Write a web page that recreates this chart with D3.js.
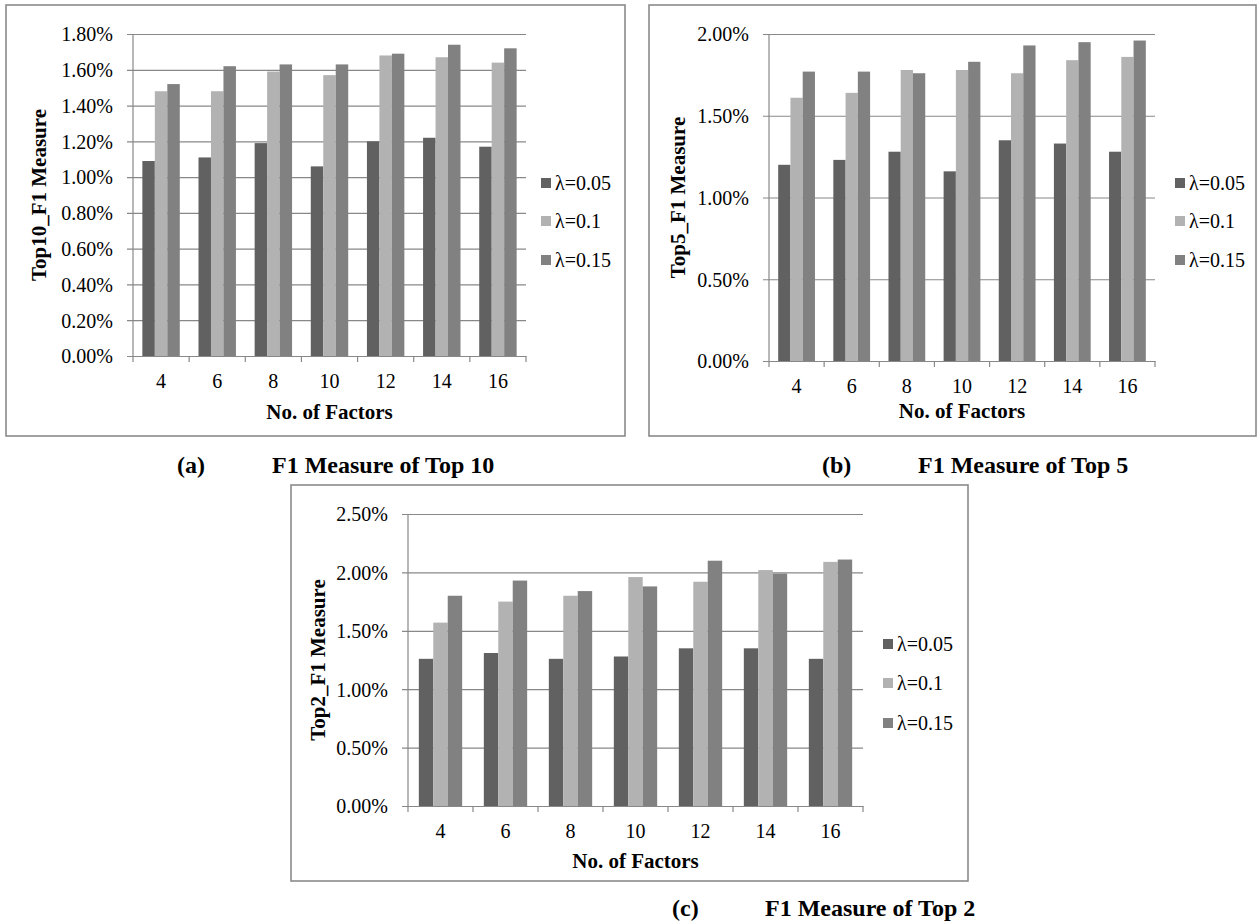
<!DOCTYPE html>
<html>
<head>
<meta charset="utf-8">
<script src="https://cdn.jsdelivr.net/npm/d3@7"></script>
<style>
  html, body { margin: 0; padding: 0; background: #fff; }
  svg { display: block; }
</style>
</head>
<body>
<svg id="chart" width="1260" height="924"></svg>
<script>
// ---------- data ----------
const categories = ["4", "6", "8", "10", "12", "14", "16"];
const seriesNames = ["λ=0.05", "λ=0.1", "λ=0.15"];

// values in percent
const top10_l005 = [1.09, 1.11, 1.19, 1.06, 1.20, 1.22, 1.17];
const top10_l010 = [1.48, 1.48, 1.59, 1.57, 1.68, 1.67, 1.64];
const top10_l015 = [1.52, 1.62, 1.63, 1.63, 1.69, 1.74, 1.72];

const top5_l005 = [1.20, 1.23, 1.28, 1.16, 1.35, 1.33, 1.28];
const top5_l010 = [1.61, 1.64, 1.78, 1.78, 1.76, 1.84, 1.86];
const top5_l015 = [1.77, 1.77, 1.76, 1.83, 1.93, 1.95, 1.96];

const top2_l005 = [1.26, 1.31, 1.26, 1.28, 1.35, 1.35, 1.26];
const top2_l010 = [1.57, 1.75, 1.80, 1.96, 1.92, 2.02, 2.09];
const top2_l015 = [1.80, 1.93, 1.84, 1.88, 2.10, 1.99, 2.11];

const top10Ticks = [0, 0.2, 0.4, 0.6, 0.8, 1.0, 1.2, 1.4, 1.6, 1.8];
const top5Ticks = [0, 0.5, 1.0, 1.5, 2.0];
const top2Ticks = [0, 0.5, 1.0, 1.5, 2.0, 2.5];

const xTitle = "No. of Factors";
const yTitles = ["Top10_F1 Measure", "Top5_F1 Measure", "Top2_F1 Measure"];
const captionLabels = ["(a)", "(b)", "(c)"];
const captionTitles = ["F1 Measure of Top 10", "F1 Measure of Top 5", "F1 Measure of Top 2"];

// ---------- styles ----------
const FONT = '"Liberation Serif", "Times New Roman", Times, serif';
const colors = ["#616161", "#b2b2b2", "#818181"];
const gridColor = "#888888";
const frameColor = "#8a8a8a";

const svg = d3.select("#chart").attr("font-family", FONT);

function drawChart(cfg) {
  const g = svg.append("g").attr("font-family", FONT);
  // outer frame
  g.append("rect")
    .attr("x", cfg.frame[0]).attr("y", cfg.frame[1])
    .attr("width", cfg.frame[2] - cfg.frame[0]).attr("height", cfg.frame[3] - cfg.frame[1])
    .attr("fill", "none").attr("stroke", frameColor).attr("stroke-width", 1.6);

  const [px0, py0, px1, py1] = cfg.plot;
  const w = px1 - px0, h = py1 - py0;
  const p = g.append("g").attr("transform", `translate(${px0},${py0})`);

  const y = d3.scaleLinear().domain([0, d3.max(cfg.ticks)]).range([h, 0]);
  const x0 = d3.scaleBand().domain(categories).range([0, w]).paddingInner(0).paddingOuter(0);
  const bw = x0.step() / 4.5;
  const x1 = d3.scaleBand().domain(seriesNames).range([bw * 0.75, bw * 3.75]).padding(0);

  // gridlines + y labels
  const yAxis = d3.axisLeft(y).tickValues(cfg.ticks).tickSize(-w).tickPadding(0)
    .tickFormat(d => d.toFixed(2) + "%");
  const ya = p.append("g").call(yAxis).attr("font-family", FONT).attr("font-size", 20);
  ya.select(".domain").remove();
  ya.selectAll(".tick line").attr("stroke", gridColor).attr("stroke-width", 1.2)
    .attr("x1", -6).attr("x2", w);
  ya.selectAll(".tick text").attr("x", -20).attr("dy", "0.34em")
    .style("font-family", FONT).style("font-size", "20px").attr("fill", "#000");

  // bars
  const rows = categories.map((c, i) => ({ cat: c, vals: cfg.series.map(s => s[i]) }));
  const grp = p.selectAll(".grp").data(rows).join("g")
    .attr("transform", d => `translate(${x0(d.cat)},0)`);
  grp.selectAll("rect").data(d => d.vals.map((v, k) => ({ v, k }))).join("rect")
    .attr("x", d => x1(seriesNames[d.k]))
    .attr("width", x1.bandwidth())
    .attr("y", d => y(d.v))
    .attr("height", d => h - y(d.v))
    .attr("fill", d => colors[d.k]);

  // y axis line
  p.append("line").attr("x1", 0).attr("x2", 0).attr("y1", 0).attr("y2", h)
    .attr("stroke", gridColor).attr("stroke-width", 1.2);

  // x axis
  const xAxis = d3.axisBottom(x0).tickSize(0).tickPadding(0);
  const xa = p.append("g").attr("transform", `translate(0,${h})`).call(xAxis)
    .attr("font-family", FONT).attr("font-size", 20);
  xa.select(".domain").attr("stroke", gridColor).attr("stroke-width", 1.2);
  xa.selectAll(".tick text").attr("y", cfg.xLabelDy).attr("dy", 0)
    .style("font-family", FONT).style("font-size", "20px").attr("fill", "#000");
  const boundaries = categories.map(c => x0(c)).concat([w]);
  xa.selectAll(".bnd").data(boundaries).join("line").attr("class", "bnd")
    .attr("x1", d => d).attr("x2", d => d).attr("y1", 0).attr("y2", 6)
    .attr("stroke", gridColor).attr("stroke-width", 1.2);

  // axis titles
  g.append("text").attr("x", px0 + w / 2).attr("y", cfg.xTitleY)
    .attr("text-anchor", "middle").style("font-family", FONT)
    .style("font-size", "21px").style("font-weight", "bold")
    .text(xTitle);
  g.append("text")
    .attr("transform", `translate(${cfg.yTitleX},${py0 + h / 2}) rotate(-90)`)
    .attr("text-anchor", "middle").attr("dy", "0.33em").style("font-family", FONT)
    .style("font-size", "21px").style("font-weight", "bold")
    .text(cfg.yTitle);

  // legend
  const lg = g.append("g");
  seriesNames.forEach((s, k) => {
    const cy = cfg.legendY[k];
    lg.append("rect").attr("x", cfg.legendX).attr("y", cy - 5).attr("width", 10).attr("height", 10)
      .attr("fill", colors[k]);
    lg.append("text").attr("x", cfg.legendX + 14).attr("y", cy).attr("dy", "0.35em")
      .style("font-family", FONT).style("font-size", "20px").text(s);
  });

  // caption
  g.append("text").attr("x", cfg.capX[0]).attr("y", cfg.capY).style("font-family", FONT)
    .style("font-size", "24px").style("font-weight", "bold").text(cfg.capLabel);
  g.append("text").attr("x", cfg.capX[1]).attr("y", cfg.capY).style("font-family", FONT)
    .style("font-size", "24px").style("font-weight", "bold").text(cfg.capTitle);
}

drawChart({
  frame: [6, 5, 625, 436], plot: [133, 34, 526, 356], ticks: top10Ticks,
  series: [top10_l005, top10_l010, top10_l015],
  xLabelDy: 32, xTitleY: 419, yTitleX: 39, yTitle: yTitles[0],
  legendX: 541, legendY: [183, 221, 260],
  capX: [177, 272], capY: 473, capLabel: captionLabels[0], capTitle: captionTitles[0]
});
drawChart({
  frame: [649, 5, 1256, 436], plot: [769, 34, 1155, 361], ticks: top5Ticks,
  series: [top5_l005, top5_l010, top5_l015],
  xLabelDy: 32, xTitleY: 418, yTitleX: 678, yTitle: yTitles[1],
  legendX: 1175, legendY: [183, 221, 260],
  capX: [822, 918], capY: 473, capLabel: captionLabels[1], capTitle: captionTitles[1]
});
drawChart({
  frame: [291, 485, 968, 881], plot: [408, 514, 863, 806], ticks: top2Ticks,
  series: [top2_l005, top2_l010, top2_l015],
  xLabelDy: 32, xTitleY: 868, yTitleX: 318, yTitle: yTitles[2],
  legendX: 883, legendY: [644, 683, 723],
  capX: [672, 765], capY: 916, capLabel: captionLabels[2], capTitle: captionTitles[2]
});
</script>
</body>
</html>
